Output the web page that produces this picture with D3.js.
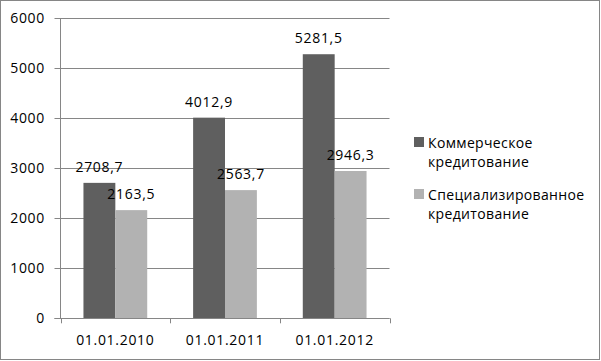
<!DOCTYPE html>
<html><head><meta charset="utf-8">
<script src="https://cdn.jsdelivr.net/npm/d3@7"></script>
<style>
html,body{margin:0;padding:0;background:#fff;}
svg text{font-family:"Open Sans",sans-serif;font-size:14px;letter-spacing:0.7px;fill:#000;}
svg text.leg{letter-spacing:0.35px;}
</style></head><body>
<svg id="c" width="601" height="361"></svg>
<script>
const categories = ["01.01.2010", "01.01.2011", "01.01.2012"];
const seriesNames = ["Коммерческое кредитование", "Специализированное кредитование"];
const commercial = [2708.7, 4012.9, 5281.5];
const specialized = [2163.5, 2563.7, 2946.3];
const yTicks = [0, 1000, 2000, 3000, 4000, 5000, 6000];
const colors = ["#5f5f5f", "#b2b2b2"];

(function(){
const svg = d3.select("#c");
svg.append("rect").attr("x",0.5).attr("y",0.5).attr("width",599).attr("height",359)
  .attr("fill","#fff").attr("stroke","#868686").attr("stroke-width",1);

const pL = 60.5, pR = 389.5, pT = 18.3, pB = 318.3;
const x = d3.scaleBand().domain(categories).range([pL, pR]).paddingInner(0).paddingOuter(0);
const y = d3.scaleLinear().domain([0, 6000]).range([pB, pT]);
const xs = d3.scaleBand().domain([0,1]).range([0, x.bandwidth()]).paddingInner(0).paddingOuter(0.72);

const g = svg.append("g");
g.selectAll("line.grid").data(yTicks).join("line")
  .attr("x1", pL - 6).attr("x2", pR)
  .attr("y1", d => Math.round(y(d)) + 0.5).attr("y2", d => Math.round(y(d)) + 0.5)
  .attr("stroke", "#868686").attr("stroke-width", 1);

g.selectAll("text.yl").data(yTicks).join("text")
  .attr("x", 45).attr("y", d => y(d) + 5)
  .attr("text-anchor", "end")
  .text(d => d);

const data = categories.map((c,i) => ({c, vals:[commercial[i], specialized[i]]}));
const groups = svg.append("g").selectAll("g").data(data).join("g")
  .attr("transform", d => `translate(${x(d.c)},0)`);
groups.selectAll("rect").data(d => d.vals.map((v,j)=>({v,j}))).join("rect")
  .attr("x", d => xs(d.j)).attr("width", xs.bandwidth())
  .attr("y", d => y(d.v)).attr("height", d => pB - y(d.v))
  .attr("fill", d => colors[d.j]);

groups.selectAll("text").data(d => d.vals.map((v,j)=>({v,j}))).join("text")
  .attr("x", d => xs(d.j) + xs.bandwidth()/2)
  .attr("y", d => y(d.v) - 11)
  .attr("text-anchor", "middle")
  .text(d => d3.format(".1f")(d.v).replace(".", ","));

svg.append("line").attr("x1", pL).attr("x2", pL).attr("y1", pT).attr("y2", pB + 0.5)
  .attr("stroke", "#868686");
svg.append("line").attr("x1", pL - 6).attr("x2", pR).attr("y1", Math.round(pB)+0.5).attr("y2", Math.round(pB)+0.5)
  .attr("stroke", "#868686");
const xt = categories.map(c => x(c)).concat([pR]);
svg.selectAll("line.xt").data(xt).join("line")
  .attr("x1", d => Math.round(d)+0.5).attr("x2", d => Math.round(d)+0.5)
  .attr("y1", pB).attr("y2", pB + 5)
  .attr("stroke", "#868686");
svg.selectAll("text.xl").data(categories).join("text")
  .attr("x", d => x(d) + x.bandwidth()/2).attr("y", 345)
  .attr("text-anchor", "middle").text(d => d);

const leg = svg.append("g");
seriesNames.forEach((name, i) => {
  const y0 = 137 + i * 52;
  leg.append("rect").attr("x", 414).attr("y", y0).attr("width", 10).attr("height", 10).attr("fill", colors[i]);
  const words = name.split(" ");
  const t = leg.append("text").attr("class", "leg").attr("x", 428).attr("y", y0 + 10.5);
  words.forEach((w, k) => t.append("tspan").attr("x", 428).attr("dy", k ? 19.5 : 0).text(w));
});
})();
</script>
</body></html>
